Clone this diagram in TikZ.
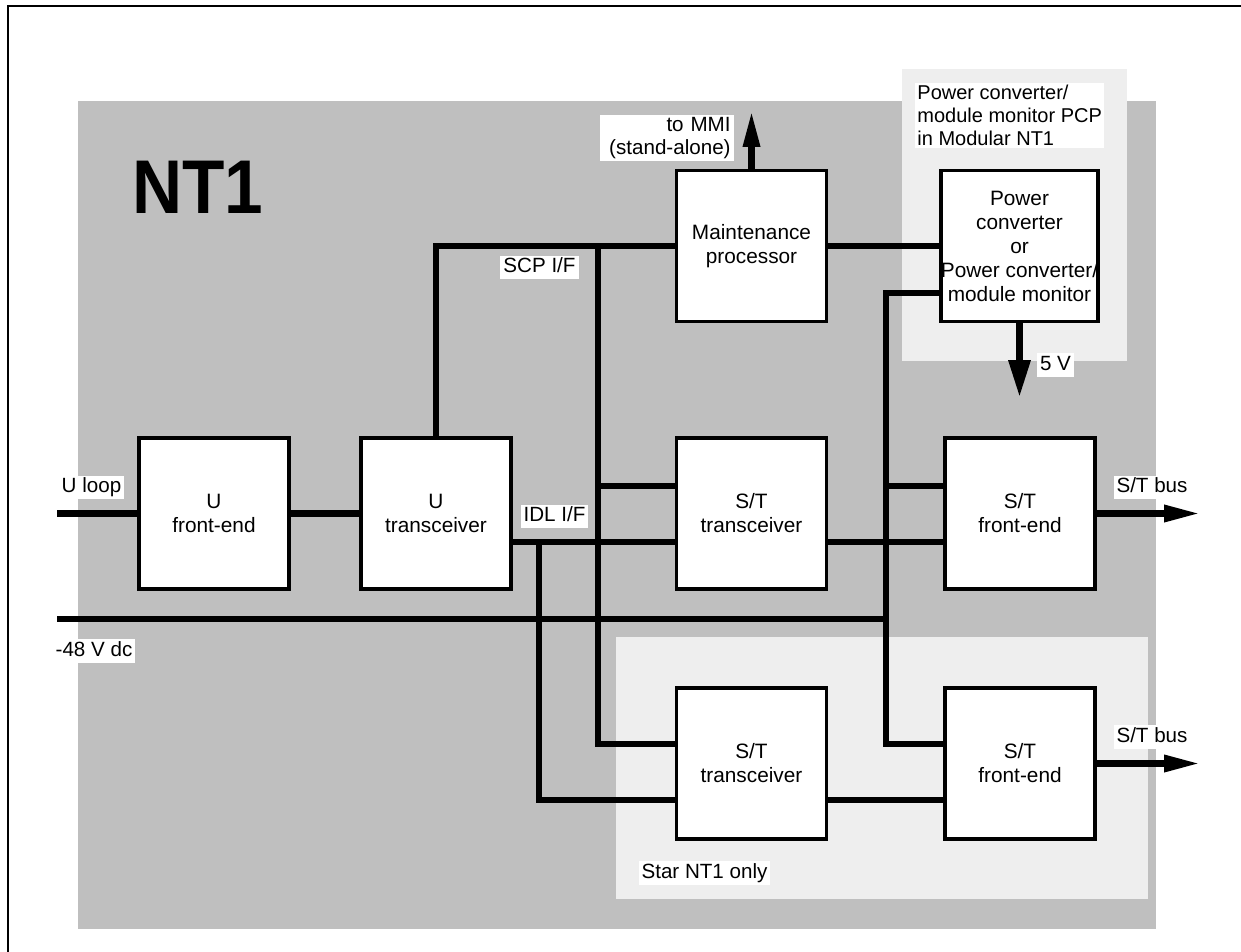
\documentclass[tikz,border=0pt]{standalone}
\usepackage{fontspec}
\setmainfont{Liberation Sans}
\usetikzlibrary{arrows.meta}
\definecolor{panelgray}{RGB}{191,191,191}
\definecolor{panellight}{RGB}{238,238,238}
\begin{document}
\begin{tikzpicture}[x=0.5pt,y=-0.5pt,
  ln/.style={line width=3.2pt},
  blk/.style={draw, line width=1.7pt, fill=white, minimum width=75pt, minimum height=75.5pt,
    align=center, inner sep=0pt, font=\fontsize{10.4pt}{12pt}\selectfont},
  lbl/.style={fill=white, inner xsep=1.5pt, inner ysep=1pt, text height=7.6pt, text depth=2.2pt,
    font=\fontsize{10.3pt}{12pt}\selectfont},
  mlbl/.style={fill=white, inner xsep=1.5pt, inner ysep=1pt,
    font=\fontsize{10.3pt}{11.5pt}\selectfont},
  arrn/.style={line width=3.2pt, -{Triangle[length=18pt,width=8pt]}},
  arrw/.style={line width=3.2pt, -{Triangle[length=18.5pt,width=10.5pt]}},
]
\useasboundingbox (0,0) rectangle (1241,952);
% frame
\draw[line width=0.6pt] (8,952) -- (8,6) -- (1241,6);
% panels
\fill[panelgray] (78,101) rectangle (1156,929);
\fill[panellight] (902,69) rectangle (1127,361);
\fill[panellight] (616,637) rectangle (1148,899);

\node[font=\bfseries] (nt1) at (198,187) {\scalebox{1.02}[1.12]{\fontsize{34pt}{40pt}\selectfont NT1}};

% blocks
\node[blk] (ufe) at (214,513.5) {U\\front-end};
\node[blk] (utr) at (436,513.5) {U\\transceiver};
\node[blk] (sttr1) at (751.5,513.5) {S/T\\transceiver};
\node[blk] (stfe1) at (1020,513.5) {S/T\\front-end};
\node[blk] (mp) at (751.5,246) {Maintenance\\processor};
\node[blk] (pcp) at (1019.5,246) {Power\\converter\\or\\Power converter/\\module monitor};
\node[blk] (sttr2) at (751.5,763.5) {S/T\\transceiver};
\node[blk] (stfe2) at (1020,763.5) {S/T\\front-end};

% coordinates
\coordinate (uloop) at (57,513.5);
\coordinate (m48) at (57,619);
\coordinate (scp) at (598,246);
\coordinate (idl) at (539,542);
\coordinate (pv) at (886,744);
\coordinate (mmi) at (751.5,111);
\coordinate (fivev) at (1019.5,397);
\coordinate (bus1) at (1200,513.5);
\coordinate (bus2) at (1200,763.5);
\coordinate (p1u) at ([yshift=13.75pt]sttr1.west);
\coordinate (f1u) at ([yshift=13.75pt]stfe1.west);

% connectors
\draw[ln] (uloop) -- (ufe.west);
\draw[ln] (ufe.east) -- (utr.west);
\draw[ln] (utr.north) |- (mp.west);
\draw[ln] (scp) |- ([yshift=9.75pt]sttr2.west);
\draw[ln] (scp |- p1u) -- (p1u);
\draw[ln] ([yshift=-14.25pt]utr.east) -- ([yshift=-14.25pt]sttr1.west);
\draw[ln] (idl) |- ([yshift=-18.25pt]sttr2.west);
\draw[ln] ([yshift=-14.25pt]sttr1.east) -- ([yshift=-14.25pt]stfe1.west);
\draw[ln] ([yshift=-18.25pt]sttr2.east) -- ([yshift=-18.25pt]stfe2.west);
\draw[ln] (mp.east) -- (pcp.west);
\draw[ln, line join=miter] ([yshift=-23.5pt]pcp.west) -| (pv) -- ([yshift=9.75pt]stfe2.west);
\draw[ln] (pv |- f1u) -- (f1u);
\draw[ln] (m48) -- (m48 -| pv);
\draw[arrn] (mp.north) -- (mmi);
\draw[arrw] (pcp.south) -- (fivev);
\draw[arrn] (stfe1.east) -- (bus1);
\draw[arrn] (stfe2.east) -- (bus2);

% labels
\node[lbl] (luloop) at (91.5,487.5) {U loop};
\node[lbl] (lm48) at (94,651) {-48 V dc};
\node[lbl] (lscp) at (539.5,267.5) {SCP I/F};
\node[lbl] (lidl) at (554.5,516.5) {IDL I/F};
\node[mlbl, align=right, text width=64pt, anchor=north east] (lmmi) at (734,115) {to MMI\\(stand-alone)};
\node[lbl] (l5v) at (1055.5,365) {5 V};
\node[lbl] (lbus1) at (1152,487.5) {S/T bus};
\node[lbl] (lbus2) at (1152,737) {S/T bus};
\node[lbl] (lstar) at (704.5,873) {Star NT1 only};
\node[mlbl, font=\fontsize{10pt}{11.5pt}\selectfont, align=left, inner xsep=1pt, anchor=north west] (lpcp) at (915,83) {Power converter/\\module monitor PCP\\in Modular NT1};
\end{tikzpicture}
\end{document}
